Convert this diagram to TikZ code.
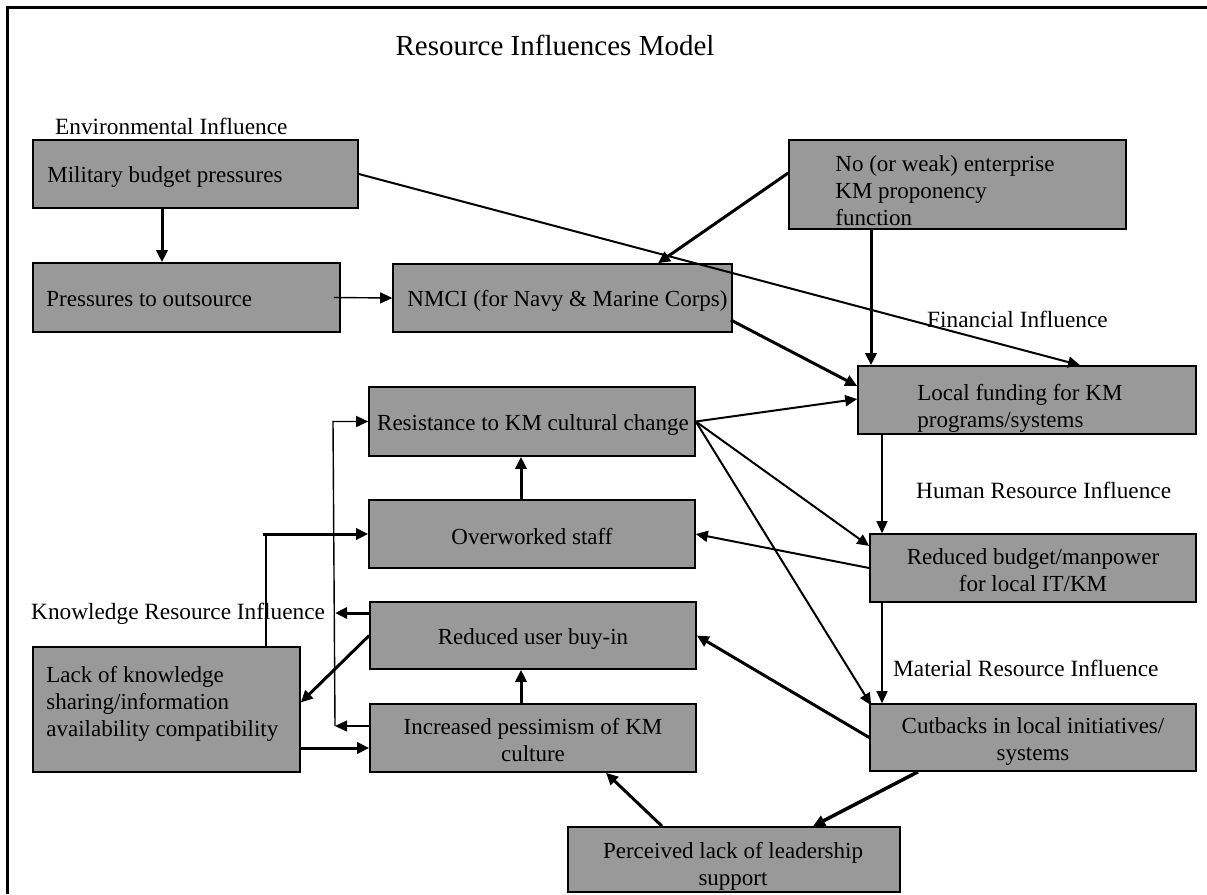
\documentclass[tikz,border=0pt]{standalone}
\usepackage{fontspec}
\setmainfont{Liberation Serif}
\usetikzlibrary{arrows.meta,calc}
\definecolor{boxgray}{RGB}{153,153,153}
\begin{document}
\begin{tikzpicture}[x=1pt,y=-1pt,
  box/.style={draw=black, line width=1.6pt, fill=boxgray, inner sep=0pt},
  txt/.style={inner sep=0pt, font=\fontsize{23}{27}\selectfont},
  lab/.style={inner sep=0pt, anchor=west, font=\fontsize{23.3}{27}\selectfont},
  tip/.style={-{Triangle[length=12pt,width=11pt]}},
  lthin/.style={line width=1.4pt},
  lmed/.style={line width=2pt},
  lthick/.style={line width=3pt},
]
\useasboundingbox (0,0) rectangle (1207,894);
% frame
\draw[line width=2.5pt] (7.5,894) -- (7.5,7.5) -- (1207,7.5);
% title
\node[inner sep=0pt, font=\fontsize{29}{33}\selectfont] (title) at (555,45) {Resource Influences Model};

% labels
\node[lab] (envlab) at (55,126) {Environmental Influence};
\node[lab] (finlab) at (927,319) {Financial Influence};
\node[lab] (humlab) at (916,490) {Human Resource Influence};
\node[lab] (matlab) at (893,668) {Material Resource Influence};
\node[lab] (knowlab) at (31,614) {Knowledge Resource Influence};

% boxes
\node[box, minimum width=325pt, minimum height=68pt] (mil) at (195.5,174) {};
\node[box, minimum width=307pt, minimum height=69pt] (out) at (186.5,297.5) {};
\node[box, minimum width=339pt, minimum height=68pt] (nmci) at (562.5,298) {};
\node[box, minimum width=337pt, minimum height=89pt] (noweak) at (957.5,184.5) {};
\node[box, minimum width=338pt, minimum height=68pt] (local) at (1027,400) {};
\node[box, minimum width=326pt, minimum height=69pt] (resist) at (532,421.5) {};
\node[box, minimum width=326pt, minimum height=68pt] (over) at (532,534) {};
\node[box, minimum width=326pt, minimum height=67pt] (buyin) at (533,635.5) {};
\node[box, minimum width=326pt, minimum height=68pt] (pess) at (533,738) {};
\node[box, minimum width=267pt, minimum height=125pt] (lack) at (166.5,709.5) {};
\node[box, minimum width=326pt, minimum height=68pt] (budget) at (1033,568) {};
\node[box, minimum width=326pt, minimum height=67pt] (cut) at (1033,737.5) {};
\node[box, minimum width=332pt, minimum height=65pt] (perc) at (734,859.5) {};

% box texts
\node[txt, anchor=west, align=left] (milt) at ([xshift=15pt,yshift=-3pt]mil.west) {Military budget pressures};
\node[txt, anchor=west, align=left] (outt) at ([xshift=14pt,yshift=-2pt]out.west) {Pressures to outsource};
\node[txt, align=center] (nmcit) at ([xshift=5pt,yshift=-3pt]nmci.center) {NMCI (for Navy \& Marine Corps)};
\node[txt, anchor=west, align=left] (noweakt) at ([xshift=47pt,yshift=-6pt]noweak.west) {No (or weak) enterprise\\KM proponency\\function};
\node[txt, anchor=west, align=left] (localt) at ([xshift=60pt,yshift=-8pt]local.west) {Local funding for KM\\programs/systems};
\node[txt, align=center] (resistt) at ([xshift=1pt,yshift=-3pt]resist.center) {Resistance to KM cultural change};
\node[txt, align=center] (overt) at ([yshift=-3pt]over.center) {Overworked staff};
\node[txt, align=center] (buyint) at ([yshift=-3pt]buyin.center) {Reduced user buy-in};
\node[txt, align=center] (pesst) at ([yshift=-2pt]pess.center) {Increased pessimism of KM\\culture};
\node[txt, anchor=west, align=left] (lackt) at ([xshift=14pt,yshift=6pt]lack.west) {Lack of knowledge\\sharing/information\\availability compatibility};
\node[txt, align=center] (budgett) at ([yshift=-2pt]budget.center) {Reduced budget/manpower\\for local IT/KM};
\node[txt, align=center] (cutt) at ([yshift=-4pt]cut.center) {Cutbacks in local initiatives/\\systems};
\node[txt, align=center] (perct) at ([xshift=-1pt,yshift=-7pt]perc.center) {Perceived lack of leadership\\support};

% helper coordinates
\coordinate (kc) at (266,534);
\coordinate (fbtop) at (335,421.5);
\coordinate (fbmid) at (335,613);
\coordinate (fbbot) at (335,726);

% connectors
\draw[lthick,tip] (mil.south -| 162,0) -- (out.north -| 162,0);
\draw[lthin,tip] ([xshift=-7pt]out.east) -- (nmci.west);
\draw[lmed,tip] (mil.east) -- ([xshift=53pt]local.north);
\draw[lthick,tip] ([yshift=11.5pt]noweak.west) -- ([xshift=95.5pt]nmci.north);
\draw[lthick,tip] (noweak.south -| 871,0) -- (local.north -| 871,0);
\draw[lthick,tip] ([xshift=-2pt,yshift=-22pt]nmci.east) -- ([yshift=14pt]local.west);
\draw[lmed,tip] (resist.east) -- ([yshift=1pt]local.west);
\draw[lmed,tip] (resist.east) -- ([yshift=22pt]budget.west);
\draw[lmed,tip] (resist.east) -- ([xshift=2pt,yshift=-2pt]cut.north west);
\draw[lthin,tip] ([yshift=2pt]local.south -| 882,0) -- (budget.north -| 882,0);
\draw[lthin,tip] (budget.south -| 882,0) -- (cut.north -| 882,0);
\draw[lmed,tip] (budget.west) -- (over.east);
\draw[lthick,tip] (cut.west) -- (buyin.east);
\draw[line width=3.5pt,tip] ([xshift=-115pt]cut.south) -- ([xshift=79pt]perc.north);
\draw[lthick,tip] ([xshift=-72pt]perc.north) -- ([xshift=73pt]pess.south);
\draw[lthick,tip] (pess.north -| 521,0) -- (buyin.south -| 521,0);
\draw[lthick,tip] (over.north -| 521,0) -- (resist.south -| 521,0);
\draw[lthick,tip] (buyin.west) -- ([yshift=7pt]lack.east);
\draw[lthick,tip] (lack.east |- 0,748) -- (pess.west |- 0,748);
\draw[lmed] (lack.north -| kc) -- (kc);
\draw[lthick,tip] ([xshift=-3pt]kc) -- (over.west);
\draw[lthick,tip] (buyin.west |- fbmid) -- (fbmid);
\draw[lthin,tip] (pess.west |- fbbot) -- (fbbot);
\draw[lthin,tip] (fbbot) -- ([xshift=-2pt]fbtop) -- (resist.west);
\end{tikzpicture}
\end{document}
